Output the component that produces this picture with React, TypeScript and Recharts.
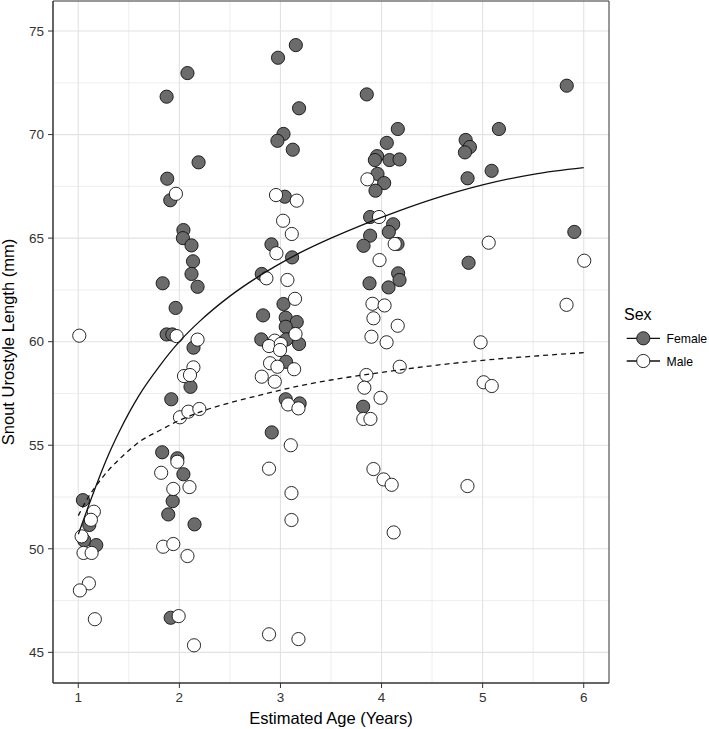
import React from 'react';
import { ScatterChart, Scatter, XAxis, YAxis, CartesianGrid, ReferenceArea, Label } from 'recharts';

// ---- axis ticks ----
const xTicks = [1, 2, 3, 4, 5, 6];
const yTicks = [45, 50, 55, 60, 65, 70, 75];
const xMinor = [1.5, 2.5, 3.5, 4.5, 5.5];
const yMinor = [47.5, 52.5, 57.5, 62.5, 67.5, 72.5];
const xDomain: [number, number] = [0.75, 6.25];
const yDomain: [number, number] = [43.52, 76.45];

// ---- observed points: [estimated age, SUL] ----
const femalePoints: [number, number][] = [
  [1.046, 52.35], [1.109, 51.15], [1.059, 50.4], [1.178, 50.18],
  [2.08, 72.97], [1.874, 71.83], [1.88, 67.87], [1.91, 66.83], [2.19, 68.66], [2.04, 65.39], [2.035, 65.0],
  [2.12, 64.65], [2.135, 63.88], [2.12, 63.27], [2.18, 62.65], [1.835, 62.82], [1.963, 61.63], [1.874, 60.35],
  [1.93, 60.35], [2.14, 59.71], [2.11, 57.82], [1.92, 57.22], [1.83, 54.66], [1.98, 54.37], [2.04, 53.6],
  [1.934, 52.3], [1.89, 51.66], [2.15, 51.18], [1.914, 46.67],
  [3.152, 74.32], [2.976, 73.71], [3.184, 71.27], [3.03, 70.03], [2.97, 69.7], [3.122, 69.27], [3.043, 67.0],
  [2.911, 64.7], [3.115, 64.07], [2.815, 63.27], [3.03, 61.82], [2.828, 61.27], [3.052, 61.16], [3.161, 60.95],
  [3.052, 60.72], [2.81, 60.11], [3.059, 60.11], [3.184, 59.89], [3.055, 59.03], [3.052, 57.22], [3.19, 57.02],
  [2.914, 55.62],
  [3.854, 71.94], [4.161, 70.27], [4.052, 69.6], [3.956, 68.96], [3.934, 68.77], [4.079, 68.77], [4.178, 68.8],
  [3.96, 68.1], [4.026, 67.66], [3.94, 67.29], [3.887, 66.02], [4.115, 65.67], [4.072, 65.3], [3.887, 65.12],
  [3.822, 64.63], [4.158, 64.72], [4.164, 63.3], [4.178, 62.98], [3.881, 62.82], [4.069, 62.62], [3.818, 56.86],
  [5.161, 70.27], [4.832, 69.74], [4.874, 69.4], [4.825, 69.14], [4.851, 67.89], [5.089, 68.25], [4.861, 63.81],
  [5.832, 72.36], [5.907, 65.3],
];

const malePoints: [number, number][] = [
  [1.01, 60.29], [1.154, 51.79], [1.125, 51.4], [1.033, 50.6], [1.052, 49.8], [1.132, 49.8], [1.105, 48.33],
  [1.016, 47.99], [1.164, 46.6],
  [1.966, 67.14], [1.973, 60.27], [2.18, 60.1], [2.139, 58.76], [2.046, 58.34], [2.105, 58.39], [2.006, 56.35],
  [2.089, 56.62], [2.198, 56.75], [1.98, 54.2], [1.82, 53.67], [2.10, 52.98], [1.94, 52.89], [1.84, 50.1],
  [1.94, 50.23], [2.08, 49.65], [1.993, 46.75], [2.145, 45.34],
  [2.956, 67.08], [3.161, 66.81], [3.026, 65.84], [3.112, 65.2], [2.96, 64.27], [2.861, 63.06], [3.069, 62.98],
  [3.144, 62.07], [3.149, 60.37], [2.944, 60.05], [2.887, 59.79], [3.003, 59.89], [2.996, 59.6], [2.897, 58.96],
  [2.97, 58.79], [3.135, 58.67], [2.815, 58.31], [2.944, 58.07], [3.075, 56.97], [3.178, 56.78], [3.102, 55.0],
  [2.887, 53.87], [3.109, 52.69], [3.109, 51.39], [2.887, 45.87], [3.178, 45.64],
  [3.86, 67.84], [3.975, 66.02], [4.13, 64.72], [3.98, 63.94], [3.91, 61.83], [4.03, 61.75], [3.92, 61.13],
  [4.16, 60.77], [3.90, 60.24], [4.05, 59.97], [4.18, 58.79], [3.85, 58.39], [3.83, 57.78], [3.99, 57.29],
  [3.82, 56.27], [3.89, 56.27], [3.92, 53.85], [4.02, 53.35], [4.10, 53.09], [4.12, 50.79],
  [5.06, 64.78], [4.98, 59.97], [5.01, 58.04], [5.09, 57.86], [4.85, 53.03],
  [6.005, 63.91], [5.83, 61.78],
];

// ---- fitted growth curves ----
const curveAges = [1, 1.1, 1.2, 1.3, 1.4, 1.5, 1.6, 1.8, 2, 2.2, 2.5, 2.8, 3, 3.2, 3.5, 3.8, 4, 4.5, 5, 5.5, 6];
const femaleCurve = [50.7, 52.05, 53.35, 54.55, 55.6, 56.55, 57.4, 58.8, 60.0, 60.98, 62.2, 63.2, 63.78, 64.31, 65.0, 65.62, 66.0, 66.87, 67.57, 68.08, 68.4];
const maleCurve = [51.6, 52.5, 53.2, 53.8, 54.3, 54.75, 55.15, 55.7, 56.2, 56.6, 57.05, 57.42, 57.66, 57.88, 58.15, 58.38, 58.52, 58.84, 59.1, 59.3, 59.47];

const FONT = '"Liberation Sans", Arial, Helvetica, sans-serif';

const toObj = (pts: [number, number][]) => pts.map(([x, y]) => ({ x, y }));
const femaleData = toObj(femalePoints);
const maleData = toObj(malePoints);
const femaleLine = curveAges.map((x, i) => ({ x, y: femaleCurve[i] }));
const maleLine = curveAges.map((x, i) => ({ x, y: maleCurve[i] }));

const FemaleDot = (p: any) => (
  <circle cx={p.cx} cy={p.cy} r={6.6} fill="#6b6b6b" stroke="#111" strokeWidth={0.9} />
);
const MaleDot = (p: any) => (
  <circle cx={p.cx} cy={p.cy} r={6.6} fill="#ffffff" stroke="#111" strokeWidth={0.9} />
);
const NoDot = () => <g />;

const tickStyle = { fontSize: 13.5, fill: '#333', fontFamily: FONT };

export default function App() {
  return (
    <div style={{ position: 'absolute', left: 0, top: 0, width: 709, height: 729, background: '#fff', fontFamily: FONT }}>
      <ScatterChart width={709} height={729} margin={{ top: 1, right: 100, bottom: 0, left: 0 }}>
        <CartesianGrid stroke="#e6e6e6" strokeWidth={0.7} horizontalValues={yMinor} verticalValues={xMinor} />
        <CartesianGrid stroke="#e2e2e2" strokeWidth={1.1} horizontalValues={yTicks} verticalValues={xTicks} />
        <XAxis
          type="number"
          dataKey="x"
          domain={xDomain}
          ticks={xTicks}
          allowDataOverflow
          height={46}
          tickSize={5}
          tickMargin={4}
          tick={tickStyle}
          tickLine={{ stroke: '#333' }}
          axisLine={{ stroke: '#333' }}
        >
          <Label value="Estimated Age (Years)" position="insideBottom" offset={5} style={{ fontSize: 16.5, fill: '#000', fontFamily: FONT }} />
        </XAxis>
        <YAxis
          type="number"
          dataKey="y"
          domain={yDomain}
          ticks={yTicks}
          allowDataOverflow
          width={53}
          tickSize={5}
          tickMargin={4}
          tick={tickStyle}
          tickLine={{ stroke: '#333' }}
          axisLine={{ stroke: '#333' }}
        >
          <Label
            value="Snout Urostyle Length (mm)"
            angle={-90}
            position="insideLeft"
            offset={8.5}
            style={{ fontSize: 16.5, fill: '#000', fontFamily: FONT, textAnchor: 'middle' }}
          />
        </YAxis>
        <ReferenceArea x1={xDomain[0]} x2={xDomain[1]} y1={yDomain[0]} y2={yDomain[1]} fill="none" stroke="#333" strokeWidth={1} ifOverflow="visible" />
        <Scatter name="Female" data={femaleData} shape={FemaleDot} isAnimationActive={false} />
        <Scatter name="Male" data={maleData} shape={MaleDot} isAnimationActive={false} />
        <Scatter
          name="Female fit"
          data={femaleLine}
          shape={NoDot}
          line={{ stroke: '#111', strokeWidth: 1.3 }}
          lineJointType="monotoneX"
          isAnimationActive={false}
        />
        <Scatter
          name="Male fit"
          data={maleLine}
          shape={NoDot}
          line={{ stroke: '#111', strokeWidth: 1.3, strokeDasharray: '5 4' }}
          lineJointType="monotoneX"
          isAnimationActive={false}
        />
      </ScatterChart>
      <svg width={95} height={80} style={{ position: 'absolute', left: 614, top: 296 }}>
        <text x={10} y={23.5} fontSize={16} fill="#000" fontFamily={FONT}>Sex</text>
        <line x1={12.7} x2={46} y1={42.3} y2={42.3} stroke="#111" strokeWidth={1.3} />
        <circle cx={29.3} cy={42.3} r={6.6} fill="#6b6b6b" stroke="#111" strokeWidth={0.9} />
        <text x={52.5} y={46.8} fontSize={12.2} fill="#000" fontFamily={FONT}>Female</text>
        <line x1={12.7} x2={46} y1={65} y2={65} stroke="#111" strokeWidth={1.3} />
        <circle cx={29.3} cy={65} r={6.6} fill="#ffffff" stroke="#111" strokeWidth={0.9} />
        <text x={52.5} y={69.5} fontSize={12.2} fill="#000" fontFamily={FONT}>Male</text>
      </svg>
    </div>
  );
}
